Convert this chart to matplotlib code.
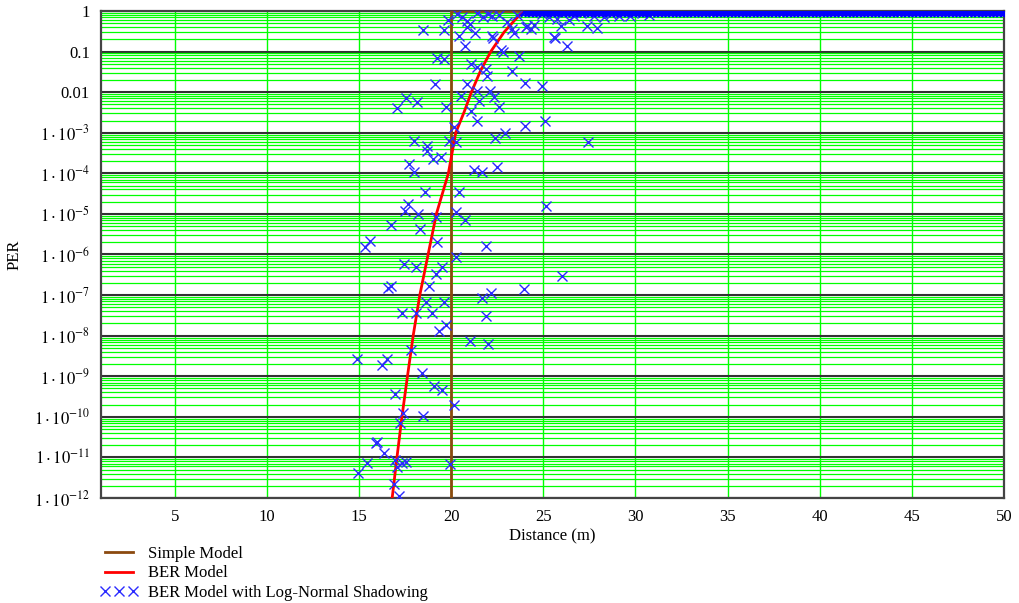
import matplotlib
matplotlib.use("Agg")
import matplotlib.pyplot as plt
from matplotlib.ticker import FixedLocator, FixedFormatter, LogLocator, NullFormatter

# ---- data ----
simple_d = [20, 20, 50]
simple_per = [1e-12, 1, 1]

ber_d = [16.8, 17.06, 17.33, 17.63, 17.94, 18.3, 18.75, 19.2, 19.85, 20.25,
         20.7, 21.1, 21.6, 22.15, 22.87, 23.5, 23.96, 50]
ber_per = [1e-12, 1e-11, 1e-10, 1e-9, 1e-8, 1e-7, 1e-6, 1e-5, 1e-4, 1e-3,
           3.2e-3, 1e-2, 3.4e-2, 0.1, 0.3, 0.63, 1, 1]

# shadowing samples (scattered ones)
shadow_d = [18.48, 19.62, 19.84, 20.43, 21.30, 20.76, 20.87, 20.87, 21.03, 22.28,
            23.31, 23.41, 24.07, 24.34, 24.50, 25.64, 26.29, 26.40, 27.37, 27.91,
            29.70, 30.35, 22.22, 23.04, 24.12, 25.96, 25.75, 27.75, 28.29, 25.58,
            22.22, 20.33, 20.60, 21.41, 21.73, 22.00, 22.60, 23.58, 24.93, 25.31,
            26.67, 27.05, 28.67, 29.11, 30.74,
            22.71, 22.82, 23.69, 19.24, 19.62, 21.08, 21.41, 21.90, 21.95, 23.31,
            19.13, 20.87, 24.01, 24.93,
            17.56, 17.07, 18.16, 19.73, 20.54, 21.41, 21.52, 22.11, 22.33, 22.60,
            21.08, 21.41, 24.01, 25.10, 20.16,
            17.99, 18.70, 19.89, 20.27, 22.38, 22.93, 27.43, 18.70, 19.02, 19.46,
            17.72, 17.99, 21.25, 21.68, 22.49,
            18.59, 20.43, 17.67, 17.51, 18.21, 19.19, 20.27, 20.76, 25.15, 16.75,
            18.32, 19.24, 15.61, 15.34, 21.90, 20.27, 17.45, 18.10, 19.51, 19.19,
            26.02, 18.81, 16.75, 16.59, 23.96, 21.68, 22.17, 18.64, 19.62, 17.34,
            18.10, 18.97, 21.90, 19.73, 19.35, 21.03, 22.01, 17.83, 14.90, 16.53,
            16.26, 18.43, 16.96, 19.08, 19.51, 20.16, 17.40, 17.24, 18.48, 15.99,
            15.93, 16.37, 16.96, 17.07, 17.56, 17.34, 15.45, 14.96, 19.95, 16.91,
            17.18]
shadow_per = [0.34, 0.34, 0.60, 0.24, 0.29, 0.14, 0.40, 0.57, 0.48, 0.22,
              0.36, 0.29, 0.40, 0.36, 0.45, 0.22, 0.14, 0.60, 0.43, 0.38,
              0.75, 0.89, 0.75, 0.54, 0.43, 0.43, 0.63, 0.75, 0.71, 0.23,
              0.24, 0.84, 0.71, 0.89, 0.71, 0.84, 0.80, 0.80, 0.84, 0.71,
              0.75, 0.89, 0.84, 0.75, 0.80,
              0.11, 0.097, 0.078, 0.069, 0.065, 0.049, 0.041, 0.037, 0.025, 0.033,
              0.016, 0.016, 0.017, 0.014,
              7.1e-3, 4.0e-3, 5.6e-3, 4.3e-3, 8.0e-3, 1.05e-2, 6.0e-3, 1.05e-2, 7.5e-3, 4.3e-3,
              3.4e-3, 2.0e-3, 1.5e-3, 1.9e-3, 1.4e-3,
              6.2e-4, 4.7e-4, 6.2e-4, 5.8e-4, 7.3e-4, 1.0e-3, 5.8e-4, 3.5e-4, 2.2e-4, 2.5e-4,
              1.7e-4, 1.1e-4, 1.2e-4, 1.05e-4, 1.4e-4,
              3.4e-5, 3.4e-5, 1.8e-5, 1.15e-5, 9.8e-6, 8.2e-6, 1.1e-5, 6.9e-6, 1.6e-5, 5.2e-6,
              4.2e-6, 2.0e-6, 2.2e-6, 1.5e-6, 1.6e-6, 8.9e-7, 6.0e-7, 4.8e-7, 5.0e-7, 3.4e-7,
              3.0e-7, 1.7e-7, 1.7e-7, 1.5e-7, 1.4e-7, 8.7e-8, 1.15e-7, 6.9e-8, 6.9e-8, 3.7e-8,
              3.7e-8, 3.7e-8, 3.1e-8, 1.8e-8, 1.3e-8, 7.6e-9, 6.3e-9, 4.5e-9, 2.6e-9, 2.7e-9,
              1.9e-9, 1.2e-9, 3.7e-10, 5.8e-10, 4.7e-10, 2.0e-10, 1.25e-10, 7.1e-11, 1.05e-10, 2.4e-11,
              2.3e-11, 1.3e-11, 8.7e-12, 5.9e-12, 7.8e-12, 7.3e-12, 7.3e-12, 4.1e-12, 6.9e-12, 2.2e-12,
              1.1e-12]

# shadowing samples saturated at PER = 1
sat_d = [24.0, 24.2, 24.4, 24.6, 24.8, 25.0, 25.2, 25.4, 25.6, 25.8,
         26.0, 26.2, 26.4, 26.6, 26.8, 27.0, 27.2, 27.4, 27.6, 27.8,
         28.0, 28.2, 28.4, 28.6, 28.8, 29.0, 29.2, 29.4, 29.6, 29.8,
         30.0, 30.2, 30.4, 30.6, 30.8, 31.0, 31.2, 31.4, 31.6, 31.8,
         32.0, 32.2, 32.4, 32.6, 32.8, 33.0, 33.2, 33.4, 33.6, 33.8,
         34.0, 34.2, 34.4, 34.6, 34.8, 35.0, 35.2, 35.4, 35.6, 35.8,
         36.0, 36.2, 36.4, 36.6, 36.8, 37.0, 37.2, 37.4, 37.6, 37.8,
         38.0, 38.2, 38.4, 38.6, 38.8, 39.0, 39.2, 39.4, 39.6, 39.8,
         40.0, 40.2, 40.4, 40.6, 40.8, 41.0, 41.2, 41.4, 41.6, 41.8,
         42.0, 42.2, 42.4, 42.6, 42.8, 43.0, 43.2, 43.4, 43.6, 43.8,
         44.0, 44.2, 44.4, 44.6, 44.8, 45.0, 45.2, 45.4, 45.6, 45.8,
         46.0, 46.2, 46.4, 46.6, 46.8, 47.0, 47.2, 47.4, 47.6, 47.8,
         48.0, 48.2, 48.4, 48.6, 48.8, 49.0, 49.2, 49.4, 49.6, 49.8, 50.0]
sat_per = [1.0] * len(sat_d)

x_ticks = [5, 10, 15, 20, 25, 30, 35, 40, 45, 50]
y_ticks = [1e-12, 1e-11, 1e-10, 1e-9, 1e-8, 1e-7, 1e-6, 1e-5, 1e-4, 1e-3, 1e-2, 1e-1, 1]
y_labels = [r'$1\cdot10^{-12}$', r'$1\cdot10^{-11}$', r'$1\cdot10^{-10}$', r'$1\cdot10^{-9}$',
            r'$1\cdot10^{-8}$', r'$1\cdot10^{-7}$', r'$1\cdot10^{-6}$', r'$1\cdot10^{-5}$',
            r'$1\cdot10^{-4}$', r'$1\cdot10^{-3}$', '0.01', '0.1', '1']

plt.rcParams['font.family'] = ['Liberation Serif', 'DejaVu Serif']
plt.rcParams['mathtext.fontset'] = 'stix'

fig = plt.figure(figsize=(10.19, 6.03), dpi=100)
ax = fig.add_axes([0.0991, 0.1741, 0.8862, 0.8077])

ax.set_yscale('log')
ax.set_xlim(1, 50)
ax.set_ylim(1e-12, 1)

blue = '#2B2BFF'
ax.plot(simple_d, simple_per, color='#8B4A0F', lw=2.0, zorder=3, label='Simple Model')
ax.plot(ber_d, ber_per, color='#FF0000', lw=2.0, zorder=4, label='BER Model')
ax.plot(shadow_d, shadow_per, 'x', color=blue, ms=7.5, mew=1.0,
        linestyle='none', zorder=5, label='BER Model with Log-Normal Shadowing')
# saturated samples pile up into a solid band along the top edge
ax.plot(sat_d, sat_per, 'x', color='#0000FF', ms=7.5, mew=2.2,
        linestyle='none', zorder=5)

# grid: green minors / verticals, black decades
ax.xaxis.set_major_locator(FixedLocator(x_ticks))
ax.yaxis.set_major_locator(FixedLocator(y_ticks))
ax.yaxis.set_major_formatter(FixedFormatter(y_labels))
ax.yaxis.set_minor_locator(LogLocator(base=10, subs=[2, 3, 4, 5, 6, 7, 8, 9], numticks=30))
ax.yaxis.set_minor_formatter(NullFormatter())
ax.set_axisbelow(True)
ax.grid(axis='x', which='major', color='#00FF00', lw=1.0)
ax.grid(axis='y', which='minor', color='#00FF00', lw=0.9)
ax.grid(axis='y', which='major', color='#333333', lw=1.5)

ax.tick_params(which='both', length=0, labelsize=12, colors='black')
ax.tick_params(axis='x', pad=8)
ax.tick_params(axis='y', pad=8)
for s in ax.spines.values():
    s.set_color('#444444')
    s.set_linewidth(1.6)

ax.set_xlabel('Distance (m)', fontsize=12, labelpad=2)
ax.set_ylabel('PER', fontsize=12, labelpad=8)

ax.legend(loc='upper left', bbox_to_anchor=(100 / 1019, 1 - 546 / 603),
          bbox_transform=fig.transFigure, frameon=False, numpoints=3,
          handlelength=2.3, handletextpad=0.6, labelspacing=0.2,
          borderpad=0, borderaxespad=0, fontsize=12)

fig.savefig('out.png', dpi=100)
